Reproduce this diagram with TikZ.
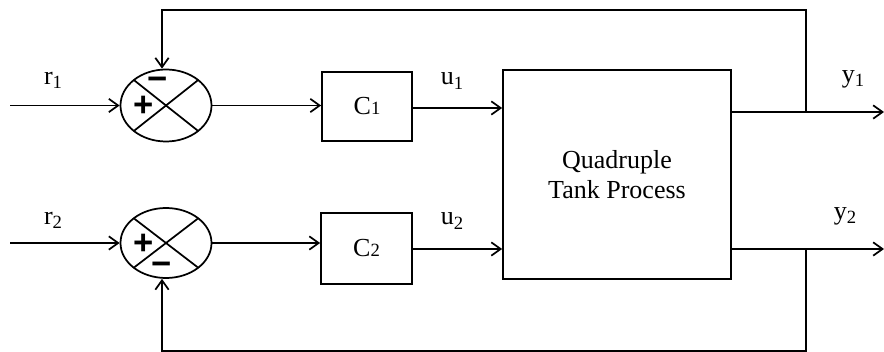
\documentclass[tikz,border=0pt]{standalone}
\usepackage{fontspec}
\setmainfont{Liberation Serif}
\newfontfamily\sgnfont{Liberation Sans}
\usetikzlibrary{arrows.meta,shapes.geometric,calc}
\newcommand{\lsub}[1]{\raisebox{-0.35ex}{\fontsize{14}{14}\selectfont #1}}
\newcommand{\bsub}[1]{{\fontsize{14}{14}\selectfont #1}}
\begin{document}
\begin{tikzpicture}[x=0.75pt,y=-0.75pt, line width=1.3pt,
  arr/.style={-{Straight Barb[length=7pt,width=10pt,line width=1.3pt]}},
  lbl/.style={font=\fontsize{19.5}{22}\selectfont, inner sep=0pt},
  blk/.style={draw, rectangle, inner sep=0pt, font=\fontsize{19.5}{22}\selectfont},
  sumj/.style={draw, ellipse, inner sep=0pt, minimum width=68.25pt, minimum height=54pt},
  sgn/.style={font=\fontsize{26}{26}\sgnfont\bfseries, inner sep=0pt}]
\useasboundingbox (0,0) rectangle (884,352);

% summing junctions
\node[sumj] (s1) at (166,105.5) {};
\node[sumj, minimum height=52.5pt] (s2) at (166,243) {};
\draw ($(s1)+(-32.2,-25.5)$) -- ($(s1)+(32.2,25.5)$);
\draw ($(s1)+(32.2,-25.5)$) -- ($(s1)+(-32.2,25.5)$);
\draw ($(s2)+(-32.2,-24.7)$) -- ($(s2)+(32.2,24.7)$);
\draw ($(s2)+(32.2,-24.7)$) -- ($(s2)+(-32.2,24.7)$);
\node[sgn, anchor=base] (m1) at (158,91) {−};
\node[sgn] (p1) at (143.5,106) {+};
\node[sgn] (p2) at (143.5,244) {+};
\node[sgn, anchor=base] (m2) at (162,276) {−};

% blocks
\node[blk, minimum width=67.5pt, minimum height=51.75pt] (c1) at (367,106.5) {C\bsub{1}};
\node[blk, minimum width=68.25pt, minimum height=53.25pt] (c2) at (366.5,248.5) {C\bsub{2}};
\node[blk, minimum width=171pt, minimum height=156.75pt, align=center] (p) at (617,174.5)
  {Quadruple\\Tank Process};

% inputs
\coordinate (i1) at (10,105.5);
\coordinate (i2) at (10,243);
\draw[arr] (i1) -- (s1.west);
\draw[arr] (i2) -- (s2.west);
\node[lbl] (r1) at (53,80) {r\lsub{1}};
\node[lbl] (r2) at (53,220) {r\lsub{2}};

% forward path
\draw[arr] (s1.east) -- (s1.east -| c1.west);
\draw[arr] (s2.east) -- (s2.east -| c2.west);
\coordinate (a1) at (412,108);
\coordinate (a2) at (412,249);
\draw[arr] (c1.east |- a1) -- (a1 -| p.west);
\draw[arr] (c2.east |- a2) -- (a2 -| p.west);
\node[lbl] (u1) at (452,81) {u\lsub{1}};
\node[lbl] (u2) at (452,221) {u\lsub{2}};

% outputs
\coordinate (o1) at (884,112);
\coordinate (o2) at (884,249);
\draw[arr] (p.east |- o1) -- (o1);
\draw[arr] (p.east |- o2) -- (o2);
\node[lbl] (y1) at (853,79) {y\lsub{1}};
\node[lbl] (y2) at (845,216) {y\lsub{2}};

% feedback
\coordinate (b1) at (806,112);
\coordinate (b2) at (806,249);
\coordinate (t1) at (806,10);
\coordinate (t2) at (162,10);
\coordinate (d1) at (806,351);
\coordinate (d2) at (162,351);
\draw[arr] (b1) -- (t1) -- (t2) -- (t2 |- s1.north);
\draw[arr] (b2) -- (d1) -- (d2) -- (d2 |- s2.south);
\end{tikzpicture}
\end{document}
